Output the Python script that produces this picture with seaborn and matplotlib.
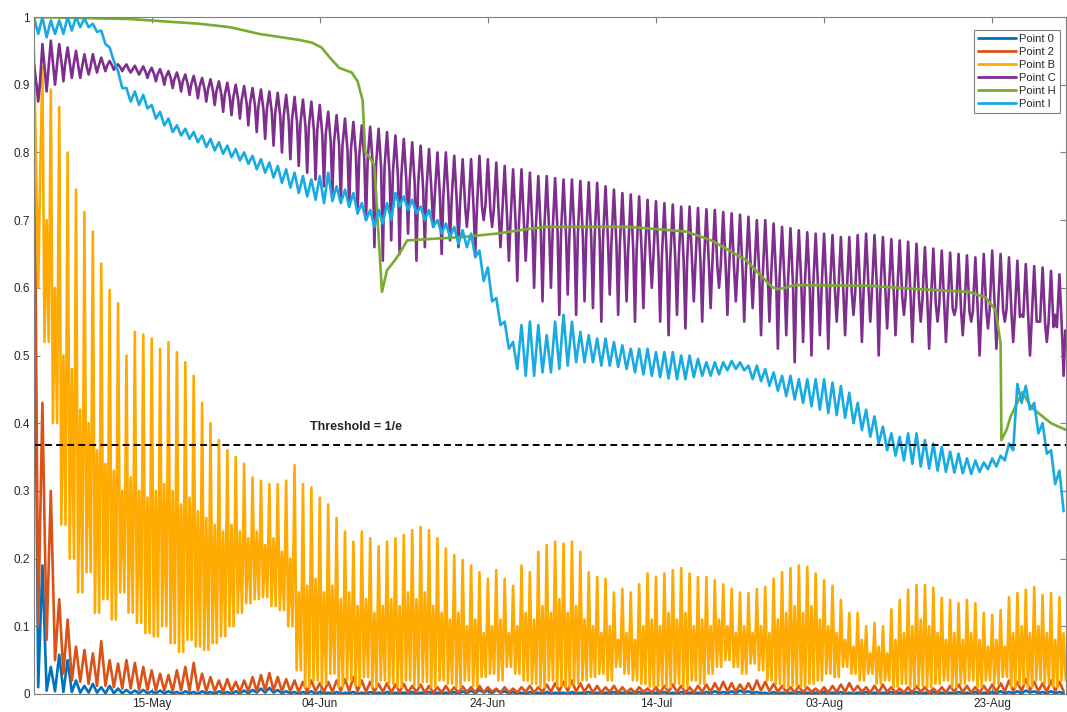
import numpy as np
import pandas as pd
import matplotlib
matplotlib.use("Agg")
import matplotlib.pyplot as plt
import matplotlib.dates as mdates
import seaborn as sns

# time axis: day 0 = 01-May; values read per day from the picture
start = pd.Timestamp("2019-05-01")
last_day = 122.8

tick_dates = ["2019-05-15", "2019-06-04", "2019-06-24", "2019-07-14", "2019-08-03", "2019-08-23"]
y_ticks = [0, 0.1, 0.2, 0.3, 0.4, 0.5, 0.6, 0.7, 0.8, 0.9, 1]
y_tick_labels = ["0", "0.1", "0.2", "0.3", "0.4", "0.5", "0.6", "0.7", "0.8", "0.9", "1"]

series_names = ["Point 0", "Point 2", "Point B", "Point C", "Point H", "Point I"]
series_colors = ["#0072BD", "#D95319", "#FFAA00", "#7E2F8E", "#77AC30", "#18AAE2"]

threshold = 1 / np.e

p0_hi = [0.77, 0.19, 0.04, 0.058, 0.05, 0.02, 0.012, 0.015, 0.01, 0.012,
         0.008, 0.006, 0.005, 0.006, 0.004, 0.005, 0.004, 0.003, 0.004, 0.003,
         0.004, 0.003, 0.004, 0.003, 0.004, 0.005, 0.006, 0.008, 0.009, 0.006,
         0.004, 0.003, 0.003, 0.004, 0.003, 0.002, 0.003, 0.002, 0.003, 0.002,
         0.003, 0.002, 0.003, 0.002, 0.002, 0.003, 0.002, 0.003, 0.002, 0.002,
         0.003, 0.004, 0.005, 0.006, 0.005, 0.006, 0.004, 0.003, 0.002, 0.003,
         0.002, 0.003, 0.002, 0.002, 0.003, 0.002, 0.003, 0.002, 0.002, 0.003,
         0.002, 0.002, 0.003, 0.002, 0.002, 0.003, 0.002, 0.003, 0.002, 0.002,
         0.003, 0.004, 0.003, 0.004, 0.005, 0.004, 0.003, 0.002, 0.003, 0.002,
         0.002, 0.003, 0.002, 0.002, 0.003, 0.002, 0.003, 0.002, 0.002, 0.003,
         0.002, 0.002, 0.003, 0.002, 0.002, 0.003, 0.002, 0.003, 0.002, 0.002,
         0.003, 0.002, 0.003, 0.002, 0.003, 0.004, 0.003, 0.004, 0.005, 0.004,
         0.003, 0.004, 0.003]
p0_lo = [0.01, 0.005, 0.004, 0.003, 0.003, 0.002, 0.002, 0.002, 0.001, 0.001,
         0.001, 0.001, 0.001, 0.001, 0.001, 0.001, 0.001, 0.0, 0.001, 0.0,
         0.001, 0.0, 0.001, 0.0, 0.001, 0.001, 0.002, 0.002, 0.002, 0.001,
         0.001, 0.0, 0.001, 0.0, 0.001, 0.0, 0.0, 0.001, 0.0, 0.0,
         0.001, 0.0, 0.0, 0.001, 0.0, 0.0, 0.001, 0.0, 0.0, 0.001,
         0.0, 0.001, 0.001, 0.002, 0.001, 0.002, 0.001, 0.0, 0.0, 0.001,
         0.0, 0.0, 0.001, 0.0, 0.0, 0.001, 0.0, 0.0, 0.001, 0.0,
         0.0, 0.001, 0.0, 0.0, 0.001, 0.0, 0.0, 0.001, 0.0, 0.0,
         0.001, 0.001, 0.001, 0.001, 0.002, 0.001, 0.001, 0.0, 0.0, 0.001,
         0.0, 0.0, 0.001, 0.0, 0.0, 0.001, 0.0, 0.0, 0.001, 0.0,
         0.0, 0.001, 0.0, 0.0, 0.001, 0.0, 0.0, 0.001, 0.0, 0.0,
         0.001, 0.0, 0.0, 0.001, 0.001, 0.001, 0.001, 0.001, 0.002, 0.001,
         0.001, 0.001, 0.001]

p2_hi = [0.93, 0.43, 0.30, 0.14, 0.11, 0.07, 0.065, 0.06, 0.078, 0.05,
         0.045, 0.05, 0.046, 0.04, 0.035, 0.03, 0.028, 0.035, 0.04, 0.046,
         0.03, 0.025, 0.02, 0.022, 0.018, 0.02, 0.025, 0.028, 0.031, 0.025,
         0.022, 0.02, 0.018, 0.02, 0.016, 0.018, 0.02, 0.022, 0.025, 0.02,
         0.018, 0.015, 0.016, 0.014, 0.015, 0.012, 0.014, 0.012, 0.01, 0.012,
         0.01, 0.011, 0.01, 0.012, 0.01, 0.008, 0.01, 0.008, 0.01, 0.012,
         0.01, 0.014, 0.016, 0.018, 0.02, 0.016, 0.014, 0.012, 0.01, 0.012,
         0.01, 0.008, 0.01, 0.008, 0.01, 0.012, 0.014, 0.012, 0.01, 0.012,
         0.014, 0.016, 0.018, 0.016, 0.014, 0.016, 0.02, 0.018, 0.015, 0.012,
         0.01, 0.012, 0.01, 0.008, 0.01, 0.012, 0.014, 0.016, 0.012, 0.01,
         0.012, 0.014, 0.01, 0.008, 0.01, 0.012, 0.01, 0.008, 0.01, 0.012,
         0.014, 0.012, 0.01, 0.012, 0.014, 0.016, 0.02, 0.018, 0.022, 0.018,
         0.016, 0.02, 0.018]
p2_lo = [0.10, 0.08, 0.05, 0.03, 0.02, 0.018, 0.015, 0.012, 0.012, 0.01,
         0.008, 0.008, 0.006, 0.006, 0.005, 0.005, 0.004, 0.005, 0.004, 0.005,
         0.004, 0.004, 0.003, 0.004, 0.003, 0.004, 0.004, 0.005, 0.005, 0.004,
         0.004, 0.003, 0.003, 0.004, 0.003, 0.003, 0.004, 0.004, 0.004, 0.003,
         0.003, 0.003, 0.002, 0.003, 0.002, 0.003, 0.002, 0.002, 0.002, 0.002,
         0.002, 0.003, 0.002, 0.002, 0.003, 0.002, 0.002, 0.002, 0.003, 0.002,
         0.003, 0.003, 0.004, 0.004, 0.003, 0.003, 0.002, 0.002, 0.003, 0.002,
         0.002, 0.002, 0.003, 0.002, 0.002, 0.003, 0.003, 0.002, 0.002, 0.003,
         0.003, 0.004, 0.004, 0.003, 0.004, 0.004, 0.005, 0.004, 0.003, 0.003,
         0.002, 0.002, 0.003, 0.002, 0.002, 0.003, 0.003, 0.004, 0.003, 0.002,
         0.002, 0.003, 0.002, 0.002, 0.002, 0.003, 0.002, 0.002, 0.002, 0.003,
         0.003, 0.002, 0.002, 0.003, 0.003, 0.004, 0.004, 0.004, 0.005, 0.004,
         0.003, 0.004, 0.004]

pB_hi = [0.95, 0.926, 0.893, 0.867, 0.80, 0.745, 0.712, 0.683, 0.636, 0.597,
         0.577, 0.50, 0.535, 0.531, 0.525, 0.51, 0.52, 0.505, 0.49, 0.47,
         0.43, 0.40, 0.375, 0.36, 0.35, 0.34, 0.32, 0.315, 0.31, 0.31,
         0.315, 0.338, 0.31, 0.305, 0.29, 0.28, 0.26, 0.24, 0.225, 0.24,
         0.23, 0.218, 0.225, 0.23, 0.235, 0.242, 0.247, 0.242, 0.23, 0.215,
         0.205, 0.198, 0.19, 0.18, 0.17, 0.183, 0.17, 0.16, 0.19, 0.18,
         0.21, 0.22, 0.225, 0.222, 0.225, 0.21, 0.18, 0.173, 0.17, 0.15,
         0.155, 0.15, 0.162, 0.178, 0.173, 0.178, 0.183, 0.186, 0.178, 0.173,
         0.173, 0.168, 0.162, 0.155, 0.15, 0.149, 0.155, 0.158, 0.17, 0.18,
         0.186, 0.19, 0.188, 0.178, 0.168, 0.16, 0.139, 0.12, 0.12, 0.10,
         0.105, 0.10, 0.125, 0.139, 0.154, 0.161, 0.161, 0.157, 0.142, 0.139,
         0.134, 0.139, 0.134, 0.12, 0.117, 0.124, 0.143, 0.149, 0.154, 0.158,
         0.146, 0.149, 0.143]
pB_mid = [0.60, 0.70, 0.60, 0.50, 0.48, 0.42, 0.40, 0.36, 0.34, 0.33,
          0.30, 0.32, 0.30, 0.29, 0.30, 0.31, 0.30, 0.28, 0.29, 0.27,
          0.26, 0.25, 0.24, 0.25, 0.24, 0.23, 0.24, 0.22, 0.23, 0.21,
          0.20, 0.15, 0.16, 0.17, 0.15, 0.16, 0.14, 0.15, 0.13, 0.14,
          0.12, 0.13, 0.14, 0.13, 0.15, 0.14, 0.15, 0.13, 0.12, 0.11,
          0.12, 0.10, 0.11, 0.09, 0.10, 0.11, 0.09, 0.10, 0.12, 0.11,
          0.13, 0.12, 0.14, 0.12, 0.13, 0.11, 0.10, 0.09, 0.10, 0.08,
          0.09, 0.08, 0.10, 0.11, 0.10, 0.12, 0.11, 0.12, 0.10, 0.11,
          0.10, 0.11, 0.10, 0.09, 0.10, 0.09, 0.10, 0.09, 0.11, 0.12,
          0.13, 0.12, 0.13, 0.11, 0.10, 0.09, 0.08, 0.07, 0.08, 0.06,
          0.07, 0.06, 0.08, 0.09, 0.10, 0.11, 0.10, 0.09, 0.08, 0.09,
          0.08, 0.09, 0.08, 0.07, 0.08, 0.07, 0.09, 0.10, 0.09, 0.10,
          0.09, 0.08, 0.09]
pB_lo = [0.78, 0.52, 0.40, 0.25, 0.20, 0.15, 0.18, 0.12, 0.14, 0.11,
         0.15, 0.12, 0.105, 0.09, 0.085, 0.10, 0.075, 0.062, 0.08, 0.07,
         0.065, 0.075, 0.085, 0.10, 0.12, 0.134, 0.14, 0.143, 0.13, 0.124,
         0.10, 0.035, 0.01, 0.02, 0.015, 0.03, 0.01, 0.02, 0.012, 0.025,
         0.01, 0.02, 0.015, 0.01, 0.02, 0.012, 0.018, 0.01, 0.02, 0.015,
         0.01, 0.02, 0.012, 0.025, 0.03, 0.02, 0.04, 0.03, 0.02, 0.015,
         0.01, 0.02, 0.012, 0.01, 0.015, 0.02, 0.025, 0.03, 0.02, 0.04,
         0.03, 0.02, 0.015, 0.01, 0.012, 0.01, 0.015, 0.01, 0.02, 0.015,
         0.03, 0.04, 0.05, 0.04, 0.03, 0.045, 0.035, 0.02, 0.015, 0.01,
         0.012, 0.01, 0.015, 0.02, 0.03, 0.025, 0.04, 0.03, 0.02, 0.03,
         0.015, 0.02, 0.01, 0.015, 0.01, 0.012, 0.01, 0.015, 0.02, 0.01,
         0.015, 0.02, 0.01, 0.02, 0.015, 0.025, 0.01, 0.015, 0.01, 0.02,
         0.015, 0.01, 0.02]

pC_hi = [0.93, 0.96, 0.965, 0.96, 0.955, 0.95, 0.945, 0.945, 0.94, 0.935,
         0.93, 0.93, 0.928, 0.927, 0.925, 0.923, 0.92, 0.918, 0.915, 0.913,
         0.91, 0.908, 0.905, 0.903, 0.90, 0.898, 0.895, 0.893, 0.89, 0.888,
         0.885, 0.882, 0.878, 0.875, 0.87, 0.86, 0.855, 0.85, 0.845, 0.84,
         0.838, 0.835, 0.83, 0.825, 0.82, 0.815, 0.81, 0.805, 0.80, 0.80,
         0.795, 0.79, 0.79, 0.795, 0.79, 0.785, 0.78, 0.775, 0.775, 0.77,
         0.765, 0.765, 0.762, 0.76, 0.76, 0.758, 0.756, 0.755, 0.75, 0.745,
         0.74, 0.738, 0.735, 0.73, 0.728, 0.725, 0.723, 0.72, 0.72, 0.718,
         0.716, 0.715, 0.712, 0.71, 0.708, 0.705, 0.70, 0.70, 0.695, 0.69,
         0.688, 0.685, 0.682, 0.68, 0.68, 0.678, 0.675, 0.675, 0.678, 0.68,
         0.678, 0.675, 0.672, 0.67, 0.668, 0.665, 0.66, 0.658, 0.655, 0.652,
         0.65, 0.648, 0.645, 0.65, 0.655, 0.65, 0.645, 0.64, 0.635, 0.632,
         0.63, 0.625, 0.62]
pC_mid = [0.90, 0.92, 0.925, 0.93, 0.928, 0.925, 0.925, 0.928, 0.928, 0.928,
          0.925, 0.922, 0.92, 0.918, 0.915, 0.912, 0.908, 0.905, 0.90, 0.897,
          0.893, 0.89, 0.885, 0.88, 0.877, 0.872, 0.868, 0.863, 0.858, 0.853,
          0.848, 0.843, 0.838, 0.833, 0.826, 0.816, 0.81, 0.803, 0.796, 0.79,
          0.782, 0.777, 0.77, 0.765, 0.758, 0.752, 0.746, 0.74, 0.735, 0.733,
          0.727, 0.72, 0.718, 0.72, 0.714, 0.707, 0.70, 0.695, 0.693, 0.688,
          0.683, 0.682, 0.68, 0.677, 0.677, 0.675, 0.673, 0.672, 0.667, 0.662,
          0.657, 0.655, 0.652, 0.647, 0.645, 0.642, 0.64, 0.637, 0.637, 0.635,
          0.633, 0.632, 0.63, 0.627, 0.625, 0.622, 0.617, 0.617, 0.612, 0.607,
          0.605, 0.602, 0.60, 0.597, 0.597, 0.595, 0.592, 0.592, 0.595, 0.597,
          0.595, 0.592, 0.59, 0.587, 0.585, 0.582, 0.577, 0.575, 0.572, 0.57,
          0.567, 0.565, 0.562, 0.567, 0.572, 0.567, 0.562, 0.557, 0.552, 0.55,
          0.547, 0.542, 0.537]
pC_lo = [0.875, 0.89, 0.90, 0.905, 0.91, 0.91, 0.915, 0.918, 0.92, 0.922,
         0.92, 0.918, 0.915, 0.91, 0.905, 0.90, 0.895, 0.89, 0.885, 0.88,
         0.875, 0.87, 0.86, 0.855, 0.85, 0.84, 0.83, 0.82, 0.81, 0.80,
         0.79, 0.78, 0.77, 0.76, 0.75, 0.74, 0.73, 0.72, 0.71, 0.70,
         0.66, 0.64, 0.67, 0.65, 0.68, 0.64, 0.66, 0.69, 0.65, 0.67,
         0.66, 0.69, 0.65, 0.70, 0.69, 0.66, 0.64, 0.61, 0.64, 0.60,
         0.58, 0.60, 0.56, 0.59, 0.56, 0.58, 0.57, 0.55, 0.59, 0.56,
         0.58, 0.55, 0.57, 0.60, 0.55, 0.53, 0.56, 0.54, 0.58, 0.55,
         0.57, 0.60, 0.56, 0.58, 0.55, 0.57, 0.53, 0.55, 0.51, 0.53,
         0.49, 0.52, 0.50, 0.53, 0.51, 0.55, 0.53, 0.56, 0.52, 0.55,
         0.50, 0.54, 0.53, 0.56, 0.52, 0.55, 0.51, 0.55, 0.52, 0.56,
         0.53, 0.55, 0.50, 0.54, 0.51, 0.55, 0.52, 0.56, 0.50, 0.55,
         0.52, 0.56, 0.47]

pI_hi = [1.0, 1.0, 0.995, 0.995, 1.0, 1.0, 0.998, 0.99, 0.98, 0.955,
         0.92, 0.895, 0.89, 0.885, 0.87, 0.86, 0.85, 0.84, 0.835, 0.83,
         0.825, 0.82, 0.815, 0.81, 0.805, 0.80, 0.795, 0.79, 0.785, 0.78,
         0.775, 0.77, 0.765, 0.76, 0.765, 0.77, 0.75, 0.745, 0.74, 0.725,
         0.715, 0.715, 0.725, 0.74, 0.735, 0.73, 0.72, 0.715, 0.70, 0.695,
         0.69, 0.685, 0.68, 0.655, 0.63, 0.585, 0.55, 0.52, 0.545, 0.55,
         0.545, 0.53, 0.55, 0.56, 0.55, 0.535, 0.53, 0.525, 0.525, 0.52,
         0.515, 0.51, 0.51, 0.51, 0.505, 0.505, 0.505, 0.50, 0.50, 0.495,
         0.49, 0.49, 0.49, 0.492, 0.49, 0.485, 0.485, 0.48, 0.475, 0.47,
         0.47, 0.465, 0.465, 0.465, 0.465, 0.46, 0.455, 0.445, 0.43, 0.42,
         0.41, 0.395, 0.385, 0.38, 0.385, 0.385, 0.375, 0.37, 0.365, 0.358,
         0.355, 0.348, 0.345, 0.342, 0.348, 0.352, 0.37, 0.458, 0.455, 0.43,
         0.40, 0.36, 0.33]
pI_lo = [0.975, 0.97, 0.975, 0.975, 0.98, 0.985, 0.985, 0.978, 0.96, 0.935,
         0.895, 0.875, 0.87, 0.865, 0.85, 0.84, 0.83, 0.825, 0.82, 0.815,
         0.808, 0.803, 0.798, 0.793, 0.788, 0.783, 0.775, 0.77, 0.763, 0.755,
         0.748, 0.74, 0.735, 0.73, 0.725, 0.728, 0.725, 0.72, 0.71, 0.70,
         0.69, 0.695, 0.70, 0.72, 0.715, 0.71, 0.70, 0.69, 0.68, 0.675,
         0.665, 0.66, 0.645, 0.61, 0.58, 0.545, 0.51, 0.48, 0.47, 0.47,
         0.475, 0.475, 0.48, 0.485, 0.49, 0.49, 0.49, 0.485, 0.485, 0.483,
         0.48, 0.475, 0.472, 0.47, 0.468, 0.466, 0.465, 0.465, 0.468, 0.47,
         0.47, 0.472, 0.478, 0.48, 0.478, 0.465, 0.462, 0.455, 0.448, 0.44,
         0.435, 0.43, 0.425, 0.42, 0.415, 0.412, 0.408, 0.40, 0.39, 0.38,
         0.37, 0.36, 0.352, 0.345, 0.34, 0.336, 0.333, 0.33, 0.328, 0.327,
         0.326, 0.325, 0.328, 0.332, 0.336, 0.345, 0.36, 0.43, 0.42, 0.385,
         0.355, 0.31, 0.27]

# Point H is smooth, read at irregular days
pH_days = [0, 11.4, 19.7, 23.3, 26.8, 31.6, 33.1, 34.2, 35.2, 36.3, 37.8, 38.5,
           39.1, 39.4, 40.1, 40.5, 41.4, 42.0, 42.9, 43.5, 44.4, 47.0, 51.0, 55.0,
           58.9, 60.9, 70.8, 77.6, 80.6, 84.7, 87.8, 88.6, 90.6, 99.3, 105.2, 111.2,
           113.2, 114.4, 115.0, 115.1, 115.7, 116.2, 117.6, 118.6, 119.5, 121.0, 122.8]
pH_vals = [1.0, 0.997, 0.99, 0.985, 0.975, 0.966, 0.962, 0.955, 0.94, 0.925, 0.918, 0.905,
           0.877, 0.80, 0.79, 0.78, 0.594, 0.626, 0.64, 0.651, 0.67, 0.672, 0.675, 0.68,
           0.687, 0.69, 0.69, 0.683, 0.67, 0.641, 0.601, 0.598, 0.604, 0.603, 0.598, 0.594,
           0.586, 0.567, 0.518, 0.375, 0.39, 0.41, 0.446, 0.424, 0.415, 0.40, 0.39]


def cycle(name, parts):
    # parts: (time of day, daily values) pairs, laid out day after day
    days = np.arange(len(parts[0][1]))
    t = np.column_stack([days + off for off, _ in parts]).ravel()
    v = np.column_stack([vals for _, vals in parts]).ravel()
    return pd.DataFrame({"time": start + pd.to_timedelta(t, unit="D"), "value": v, "series": name})


df = pd.concat([
    cycle("Point 0", [(0, p0_hi), (0.5, p0_lo)]),
    cycle("Point 2", [(0, p2_hi), (0.5, p2_lo)]),
    cycle("Point B", [(0, pB_hi), (0.25, pB_lo), (0.5, pB_mid), (0.75, pB_lo)]),
    cycle("Point C", [(0, pC_hi), (0.3, pC_mid), (0.5, pC_lo), (0.7, pC_mid)]),
    pd.DataFrame({"time": start + pd.to_timedelta(pH_days, unit="D"), "value": pH_vals, "series": "Point H"}),
    cycle("Point I", [(0, pI_hi), (0.5, pI_lo)]),
], ignore_index=True)

sns.set_style("ticks")
plt.rcParams["font.family"] = ["Liberation Sans", "DejaVu Sans"]

fig = plt.figure(figsize=(10.67, 7.12), dpi=100)
ax = fig.add_axes([34 / 1067, 1 - 694 / 712, 1 - 34 / 1067 - 0.0008, (694 - 17) / 712])

sns.lineplot(data=df, x="time", y="value", hue="series", hue_order=series_names,
             palette=dict(zip(series_names, series_colors)), estimator=None,
             sort=False, linewidth=1.9, ax=ax)

ax.axhline(threshold, color="black", linestyle=(0, (3.5, 2.2)), linewidth=1.4)
ax.text(start + pd.Timedelta(days=32.8), 0.394, "Threshold = 1/e",
        fontsize=9, fontweight="bold", va="center", ha="left")

ax.set_xlim(start, start + pd.Timedelta(days=last_day))
ax.set_ylim(0, 1)
ax.set_xticks(pd.to_datetime(tick_dates))
ax.xaxis.set_major_formatter(mdates.DateFormatter("%d-%b"))
ax.set_yticks(y_ticks)
ax.set_yticklabels(y_tick_labels)
ax.set_xlabel("")
ax.set_ylabel("")

ax.tick_params(direction="in", length=4, width=0.8, top=True, right=True,
               color="#808080", labelcolor="#262626", labelsize=8.5, pad=3)
for side in ["top", "bottom", "left", "right"]:
    ax.spines[side].set_visible(True)
    ax.spines[side].set_color("#808080")
    ax.spines[side].set_linewidth(0.8)

handles, labels = ax.get_legend_handles_labels()
leg = ax.legend(handles, labels, loc="upper right", bbox_to_anchor=(0.994, 0.981),
                borderaxespad=0, fontsize=8, frameon=True, fancybox=False,
                edgecolor="#808080", framealpha=1, handlelength=3.4,
                handletextpad=0.3, labelspacing=0.28, borderpad=0.35)
leg.get_frame().set_linewidth(0.8)
for line in leg.get_lines():
    line.set_linewidth(2)

fig.savefig("out.png", dpi=100)
